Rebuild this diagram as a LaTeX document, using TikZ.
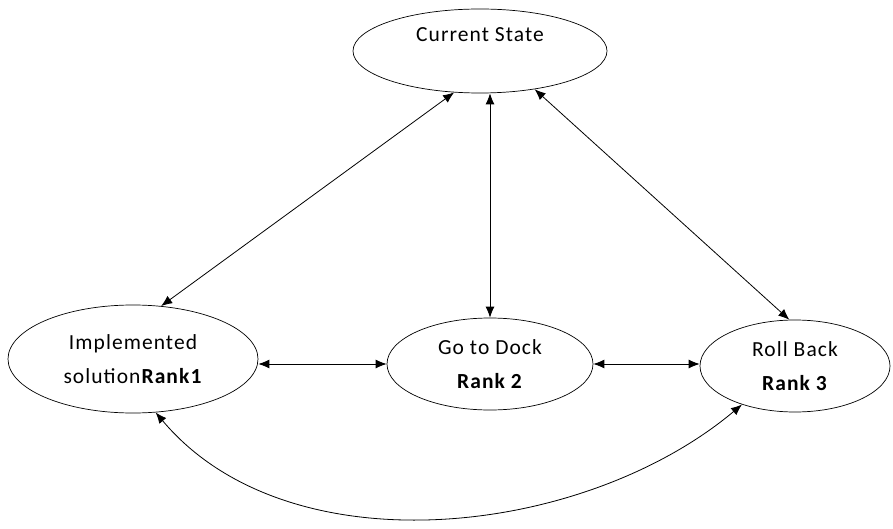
\documentclass[tikz,border=0pt]{standalone}
\usepackage{fontspec}
\setmainfont{Carlito}[LetterSpace=5]
\usetikzlibrary{shapes.geometric,arrows.meta}
\tikzset{x=1pt,y=-1pt,
    state/.style={draw,ellipse,line width=0.7pt,align=center,inner sep=0pt,font=\fontsize{21.5}{34}\selectfont},
    link/.style={{Latex[length=11pt,width=9pt]}-{Latex[length=11pt,width=9pt]},line width=0.8pt},
    }
\begin{document}
\begin{tikzpicture}
\useasboundingbox (0,0) rectangle (893,529);
\node[state,minimum width=254pt,minimum height=84pt] (cur) at (480,51) {Current State\\[-2pt]~};
\node[state,minimum width=250pt,minimum height=108pt] (impl) at (133,359) {Implemented\\solution\textbf{Rank1}};
\node[state,minimum width=206pt,minimum height=92pt] (dock) at (490,364) {Go to Dock\\\textbf{Rank 2}};
\node[state,minimum width=190pt,minimum height=92pt] (roll) at (795,366) {Roll Back\\\textbf{Rank 3}};
% links to the current state
\draw[link] (cur.-122) -- (impl.62);
\draw[link] (cur.south -| dock.north) -- (dock.north);
\draw[link] (cur.-35) -- (roll.97);
% links along the bottom row
\draw[link] (dock.west -| impl.east) -- (dock.west);
\draw[link] (dock.east) -- (dock.east -| roll.west);
\draw[link] (impl.-67) to[out=-50,in=-140,looseness=0.9] (roll.216);
\end{tikzpicture}
\end{document}
